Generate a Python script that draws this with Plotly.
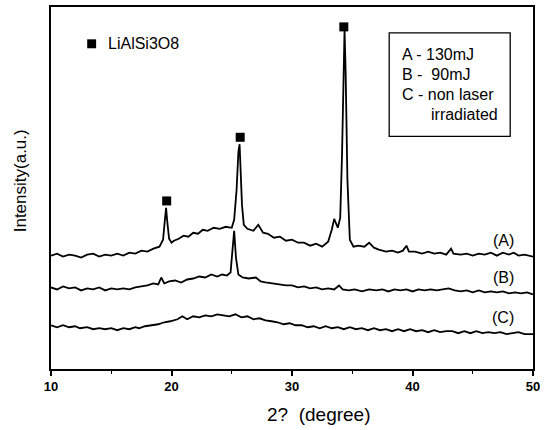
import plotly.graph_objects as go

# ---- data (2theta in degrees, intensity in arbitrary units) ----
x_a = [10.0, 10.5, 11.0, 11.5, 12.0, 12.5, 13.0, 13.5, 14.0, 14.5, 15.0, 15.5, 16.0, 16.5,
       17.0, 17.5, 18.0, 18.5, 19.0, 19.3, 19.45, 19.55, 19.65, 19.8, 20.0, 20.2, 20.6, 21.0,
       21.4, 21.8, 22.2, 22.6, 23.0, 23.5, 24.0, 24.5, 25.0, 25.2, 25.4, 25.55, 25.65, 25.75,
       25.85, 26.0, 26.3, 26.8, 27.2, 27.6, 28.0, 28.5, 29.0, 29.5, 30.0, 30.5, 31.0, 31.5,
       32.0, 32.5, 33.0, 33.3, 33.5, 33.8, 34.0, 34.15, 34.28, 34.36, 34.45, 34.6, 34.8, 35.1,
       35.5, 36.0, 36.4, 36.8, 37.2, 37.8, 38.3, 38.8, 39.2, 39.5, 39.7, 40.2, 40.8, 41.3,
       41.8, 42.3, 42.8, 43.2, 43.4, 44.0, 44.5, 45.0, 45.5, 46.0, 46.5, 47.0, 47.5, 48.0,
       48.4, 48.8, 49.3, 50.0]
y_a = [114, 116, 113, 115, 114, 112, 115, 116, 113, 115, 114, 116, 114, 117,
       116, 119, 118, 121, 123, 130, 150, 162, 148, 131, 127, 129, 131, 134,
       133, 137, 136, 140, 139, 142, 141, 143, 142, 150, 180, 218, 226, 200,
       165, 145, 141, 139, 145, 137, 136, 132, 133, 129, 130, 127, 127, 124,
       126, 123, 128, 140, 151, 142, 152, 215, 310, 341, 300, 190, 130, 123,
       124, 123, 127, 122, 120, 118, 119, 117, 119, 124, 118, 118, 116, 118,
       116, 117, 115, 121, 116, 115, 116, 114, 116, 115, 117, 114, 117, 115,
       117, 114, 115, 113]

x_b = [10.0, 10.5, 11.0, 11.5, 12.0, 12.5, 13.0, 13.5, 14.0, 14.5, 15.0, 15.5, 16.0, 16.5,
       17.0, 17.5, 18.0, 18.5, 18.9, 19.15, 19.4, 19.8, 20.3, 20.8, 21.3, 21.8, 22.3, 22.8,
       23.3, 23.8, 24.2, 24.6, 24.9, 25.05, 25.2, 25.35, 25.55, 25.9, 26.4, 27.0, 27.4, 27.8,
       28.4, 29.0, 29.5, 30.0, 30.5, 31.0, 31.5, 32.0, 32.5, 33.0, 33.5, 33.9, 34.2, 34.7,
       35.2, 35.8, 36.4, 37.0, 37.5, 38.0, 38.5, 39.0, 39.5, 40.0, 40.5, 41.0, 41.5, 42.0,
       42.5, 43.0, 43.5, 44.0, 44.5, 45.0, 45.5, 46.0, 46.5, 47.0, 47.5, 48.0, 48.5, 49.0,
       49.5, 50.0]
y_b = [82, 80, 83, 81, 82, 79, 81, 80, 82, 79, 81, 80, 81, 80,
       82, 83, 84, 86, 85, 92, 86, 88, 89, 87, 90, 91, 93, 92,
       95, 93, 95, 94, 97, 118, 139, 112, 95, 92, 91, 92, 88, 87,
       86, 85, 84, 84, 82, 83, 81, 82, 80, 81, 80, 84, 80, 79,
       80, 78, 80, 79, 80, 78, 80, 79, 80, 78, 80, 79, 80, 79,
       80, 81, 79, 78, 79, 77, 79, 77, 78, 77, 78, 76, 77, 76,
       77, 75]

x_c = [10.0, 10.5, 11.0, 11.5, 12.0, 12.4, 13.0, 13.5, 14.0, 14.5, 15.0, 15.5, 16.0, 16.5,
       17.0, 17.3, 17.8, 18.3, 18.9, 19.4, 19.9, 20.5, 20.9, 21.3, 21.8, 22.3, 22.8, 23.3,
       23.8, 24.3, 24.8, 25.3, 25.8, 26.3, 26.8, 27.3, 27.8, 28.3, 28.8, 29.3, 29.8, 30.3,
       30.8, 31.3, 31.8, 32.3, 32.8, 33.3, 33.8, 34.3, 34.8, 35.3, 35.8, 36.3, 36.8, 37.3,
       37.8, 38.3, 38.8, 39.3, 39.8, 40.3, 40.8, 41.3, 41.8, 42.3, 42.8, 43.3, 43.8, 44.3,
       44.8, 45.3, 45.8, 46.3, 46.8, 47.3, 47.8, 48.3, 48.8, 49.3, 50.0]
y_c = [44, 42, 44, 42, 43, 41, 42, 40, 41, 40, 41, 39, 41, 40,
       42, 41, 43, 44, 45, 47, 48, 50, 53, 50, 53, 52, 54, 53,
       55, 54, 53, 55, 52, 53, 50, 51, 49, 48, 47, 45, 46, 44,
       44, 42, 43, 41, 43, 41, 42, 40, 42, 40, 41, 39, 41, 39,
       40, 38, 40, 38, 40, 38, 39, 37, 39, 37, 38, 38, 36, 38,
       36, 38, 36, 37, 36, 37, 35, 36, 37, 35, 35]

peak_x = [19.6, 25.7, 34.3]
peak_y = [169, 233, 344]

series_labels = ["(A)", "(B)", "(C)"]
legend_lines = ["A - 130mJ", "B -  90mJ", "C - non laser", "irradiated"]
phase_label = "LiAlSi3O8"
x_ticks = [10, 20, 30, 40, 50]

# ---- layout helpers (pixel -> paper) ----
L, R, T, B = 51, 537, 5, 369
def px(p):
    return (p - L) / (R - L)
def py(p):
    return (B - p) / (B - T)

FONT = "Liberation Sans, Arial, sans-serif"

fig = go.Figure()
for xs, ys in [(x_a, y_a), (x_b, y_b), (x_c, y_c)]:
    fig.add_trace(go.Scatter(x=xs, y=ys, mode="lines",
                             line=dict(color="black", width=1.8), showlegend=False,
                             hoverinfo="skip"))
fig.add_trace(go.Scatter(x=peak_x, y=peak_y, mode="markers",
                         marker=dict(symbol="square", size=9, color="black"),
                         showlegend=False))

annotations = []
for lab, yp in zip(series_labels, [240, 277, 317]):
    annotations.append(dict(text=lab, x=px(507), y=py(yp), xref="paper", yref="paper",
                            showarrow=False, xanchor="center", yanchor="middle",
                            font=dict(size=16, color="black", family=FONT)))
for i, line in enumerate(legend_lines):
    xl = 403 if i < 3 else 432
    annotations.append(dict(text=line, x=px(xl), y=py(53 + 20 * i), xref="paper", yref="paper",
                            showarrow=False, xanchor="left", yanchor="middle",
                            font=dict(size=16, color="black", family=FONT)))
annotations.append(dict(text=phase_label, x=px(106), y=py(42), xref="paper", yref="paper",
                        showarrow=False, xanchor="left", yanchor="middle",
                        font=dict(size=16, color="black", family=FONT)))
annotations.append(dict(text="2?  (degree)", x=px(321), y=py(415), xref="paper", yref="paper",
                        showarrow=False, xanchor="center", yanchor="middle",
                        font=dict(size=19, color="black", family=FONT)))
annotations.append(dict(text="Intensity(a.u.)", x=px(20), y=py(180), xref="paper", yref="paper",
                        showarrow=False, xanchor="center", yanchor="middle", textangle=-90,
                        font=dict(size=17, color="black", family=FONT)))

shapes = [
    dict(type="rect", xref="paper", yref="paper", x0=px(392), x1=px(514), y0=py(135), y1=py(31),
         line=dict(color="black", width=1.3)),
    dict(type="rect", xref="paper", yref="paper", x0=px(87.5), x1=px(96.5), y0=py(46.5), y1=py(37.5),
         line=dict(width=0), fillcolor="black"),
]

fig.update_layout(
    width=545, height=430,
    margin=dict(l=L, r=545 - R, t=T, b=430 - B),
    paper_bgcolor="white", plot_bgcolor="white",
    annotations=annotations, shapes=shapes,
    xaxis=dict(range=[10, 50], tickvals=x_ticks, ticks="outside", ticklen=5, tickwidth=1.5,
               tickcolor="black", showgrid=False, zeroline=False,
               showline=True, linecolor="black", linewidth=1.6, mirror=True,
               minor=dict(dtick=5, ticks="outside", ticklen=3, tickwidth=1.3, tickcolor="black",
                          showgrid=False),
               tickfont=dict(size=13, color="black", family=FONT, weight="bold")),
    yaxis=dict(range=[0, 364], showticklabels=False, ticks="", showgrid=False, zeroline=False,
               showline=True, linecolor="black", linewidth=1.6, mirror=True),
)

fig.write_html(
    "out.html",
    config={"displayModeBar": False},
    post_script="document.body.style.margin='0';document.body.style.padding='0';"
                "document.documentElement.style.overflow='hidden';",
)
